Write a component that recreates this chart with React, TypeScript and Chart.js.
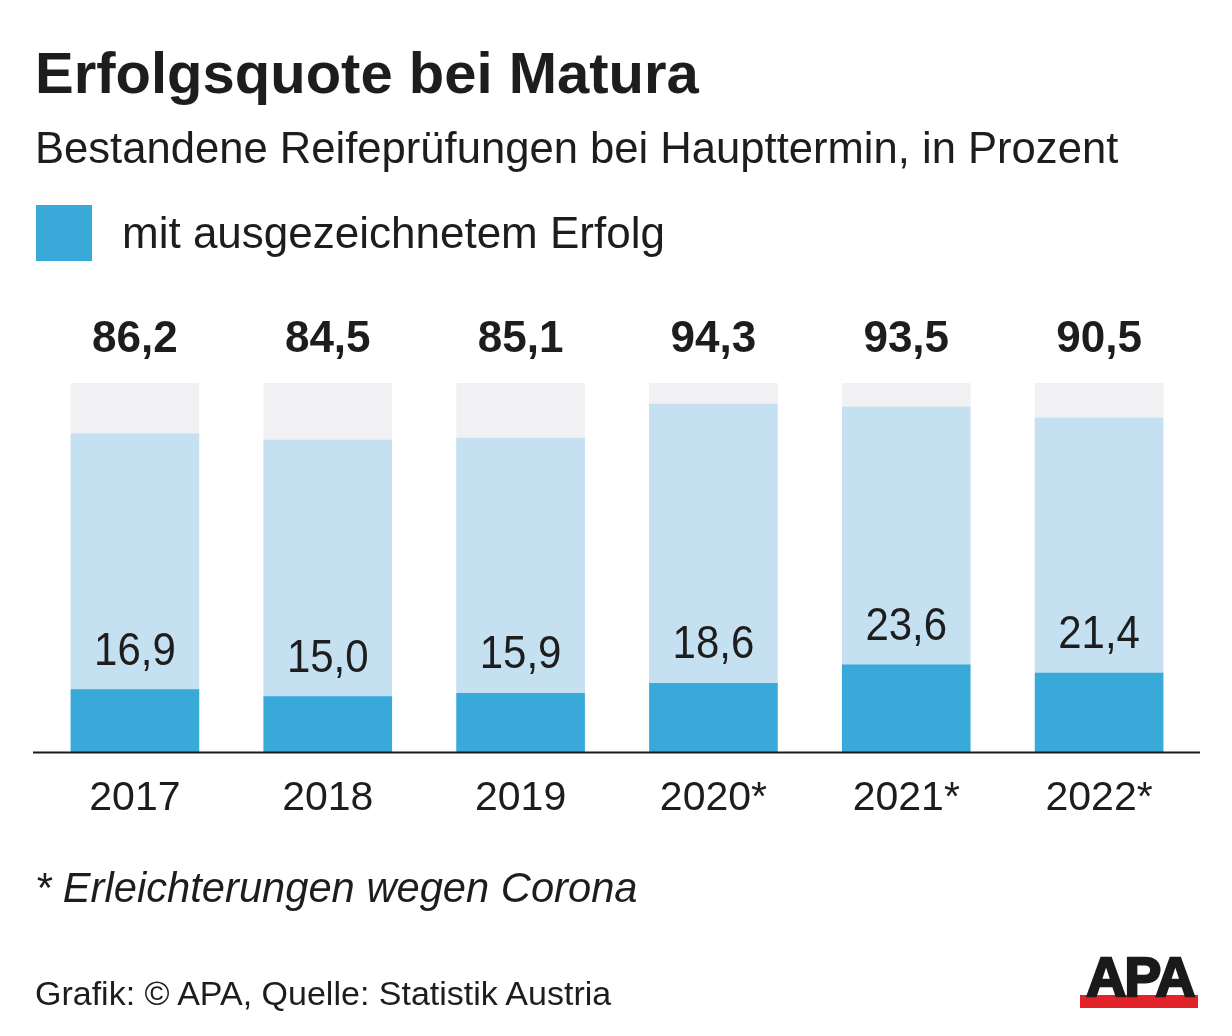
import React, { useEffect, useRef } from "react";
import { Chart, registerables } from "chart.js";

Chart.register(...registerables);

// ---- data ----
const years = ["2017", "2018", "2019", "2020*", "2021*", "2022*"];
const passedPct = [86.2, 84.5, 85.1, 94.3, 93.5, 90.5];
const distinctionPct = [16.9, 15.0, 15.9, 18.6, 23.6, 21.4];
const fullScale = 100;

const DARK = "#38a9d9";
const LIGHT = "#c4e0f1";
const GREY = "#f1f1f3";
const TEXT = "#1d1d1d";
const FONT = "'Liberation Sans', Arial, sans-serif";

const fmt = (v: number) => v.toFixed(1).replace(".", ",");

const labelPlugin = {
  id: "barLabels",
  afterDatasetsDraw(chart: any) {
    const { ctx, chartArea, scales } = chart;
    const xs = scales.x;
    const ys = scales.y;
    ctx.save();
    // baseline
    const by = ys.getPixelForValue(0);
    ctx.strokeStyle = "#1a1a1a";
    ctx.lineWidth = 2;
    ctx.beginPath();
    ctx.moveTo(chartArea.left - 5.5, by + 0.5);
    ctx.lineTo(chartArea.right + 4.5, by + 0.5);
    ctx.stroke();

    ctx.fillStyle = TEXT;
    ctx.textAlign = "center";
    ctx.textBaseline = "alphabetic";
    for (let i = 0; i < years.length; i++) {
      const xc = xs.getPixelForValue(i);
      ctx.font = `bold 44px ${FONT}`;
      ctx.fillText(fmt(passedPct[i]), xc, ys.getPixelForValue(fullScale) - 31);
      ctx.save();
      ctx.translate(xc, ys.getPixelForValue(distinctionPct[i]) - 25);
      ctx.scale(1, 1.1);
      ctx.font = `42px ${FONT}`;
      ctx.fillText(fmt(distinctionPct[i]), 0, 0);
      ctx.restore();
    }
    ctx.restore();
  },
};

function BarChart() {
  const ref = useRef<HTMLCanvasElement | null>(null);
  useEffect(() => {
    if (!ref.current) return;
    const chart = new Chart(ref.current, {
      type: "bar",
      data: {
        labels: years,
        datasets: [
          {
            label: "mit ausgezeichnetem Erfolg",
            data: distinctionPct,
            backgroundColor: DARK,
            barThickness: 128,
            borderWidth: 0,
          },
          {
            label: "bestanden",
            data: passedPct.map((p, i) => +(p - distinctionPct[i]).toFixed(1)),
            backgroundColor: LIGHT,
            barThickness: 128,
            borderWidth: 0,
          },
          {
            label: "nicht bestanden",
            data: passedPct.map((p) => +(fullScale - p).toFixed(1)),
            backgroundColor: GREY,
            barThickness: 128,
            borderWidth: 0,
          },
        ],
      },
      options: {
        animation: false,
        responsive: false,
        devicePixelRatio: 1,
        layout: { padding: { top: 383, left: 38.5, right: 36.5, bottom: 0 } },
        plugins: {
          legend: { display: false },
          tooltip: { enabled: false },
          title: { display: false },
        },
        scales: {
          x: {
            stacked: true,
            grid: { display: false, drawTicks: false },
            border: { display: false },
            ticks: {
              color: TEXT,
              font: { family: FONT, size: 41 },
              padding: 22,
              maxRotation: 0,
              autoSkip: false,
            },
            afterFit: (scale: any) => {
              scale.height = 284;
            },
          },
          y: {
            stacked: true,
            display: false,
            min: 0,
            max: fullScale,
          },
        },
      },
      plugins: [labelPlugin],
    });
    return () => chart.destroy();
  }, []);
  return (
    <canvas
      ref={ref}
      width={1232}
      height={1036}
      style={{ position: "absolute", left: 0, top: 0, width: 1232, height: 1036 }}
    />
  );
}

export default function App() {
  const txt = (extra: React.CSSProperties): React.CSSProperties => ({
    position: "absolute",
    left: 35,
    margin: 0,
    lineHeight: 1,
    whiteSpace: "nowrap",
    color: TEXT,
    fontFamily: FONT,
    ...extra,
  });
  return (
    <div
      style={{
        position: "absolute",
        left: 0,
        top: 0,
        width: 1232,
        height: 1036,
        background: "#fff",
        overflow: "hidden",
      }}
    >
      <BarChart />
      <div style={txt({ top: 44, fontSize: 58, fontWeight: "bold" })}>Erfolgsquote bei Matura</div>
      <div style={txt({ top: 127, fontSize: 43.6 })}>
        Bestandene Reifeprüfungen bei Haupttermin, in Prozent
      </div>
      <div
        style={{ position: "absolute", left: 36, top: 205, width: 56, height: 56, background: DARK }}
      />
      <div style={txt({ left: 122, top: 211, fontSize: 44 })}>mit ausgezeichnetem Erfolg</div>
      <div style={txt({ top: 867, fontSize: 41.7, fontStyle: "italic" })}>
        * Erleichterungen wegen Corona
      </div>
      <div style={txt({ top: 976, fontSize: 34 })}>Grafik: © APA, Quelle: Statistik Austria</div>
      <svg
        width={140}
        height={70}
        style={{ position: "absolute", left: 1068, top: 945 }}
        viewBox="0 0 140 70"
      >
        <rect x={12} y={50} width={118} height={13} fill="#e3232a" />
        <text
          x={72}
          y={51}
          textAnchor="middle"
          fontFamily={FONT}
          fontWeight="bold"
          fontSize={55}
          fill="#1a1a1a"
          stroke="#1a1a1a"
          strokeWidth={2.5}
          letterSpacing={-1.5}
        >
          APA
        </text>
      </svg>
    </div>
  );
}
